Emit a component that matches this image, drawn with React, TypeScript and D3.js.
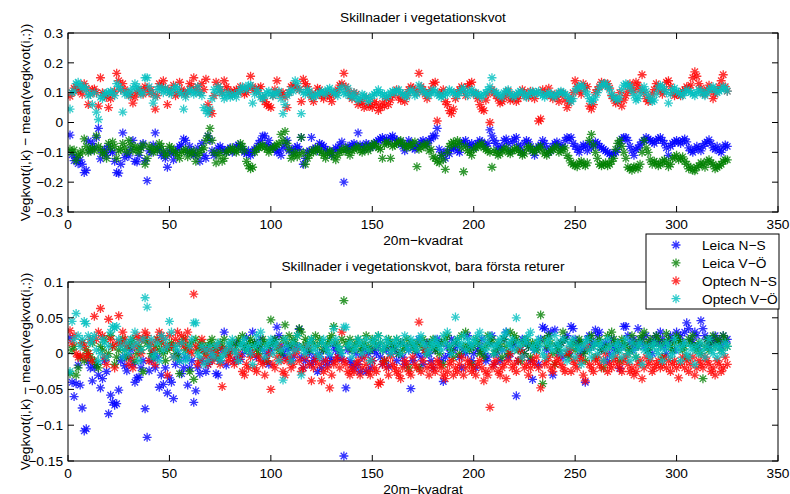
import React from "react";
import * as d3 from "d3";

// x = index + 1 (20m-kvadrat number). Values are given in thousandths (value × 1000).
const leicaNS1 = [
-42,-108,-128,-118,-138,-125,-140,-168,-160,-62,
-95,-70,-85,-50,-20,-122,-100,-90,-110,-80,
-95,-100,-130,-168,-170,-140,-35,-118,-105,-112,
-90,-60,-130,-132,-110,-85,-70,-128,-195,-95,
-100,-75,-35,-90,-85,-110,-100,-120,-150,-95,
-105,-125,-100,-90,-80,-75,-55,-60,-100,-80,
-95,-110,-105,-85,-130,-70,-110,-120,-45,-60,
-95,-110,-100,-85,-80,-90,-95,-100,-90,-85,
-100,-95,-80,-75,-80,-90,-100,-105,-95,-110,
-100,-90,-85,-70,-60,-45,-45,-75,-60,-80,
-85,-90,-100,-95,-110,-85,-75,-60,-95,-90,
-100,-85,-80,-90,-50,-140,-120,-100,-95,-50,
-90,-85,-95,-70,-75,-80,-90,-95,-100,-110,
-95,-85,-90,-75,-65,-200,-90,-80,-85,-75,
-70,-80,-35,-75,-80,-90,-70,-75,-85,-80,
-70,-65,-60,-55,-50,-60,-55,-65,-50,-45,
-55,-60,-70,-65,-80,-95,-75,-60,-70,-85,
-90,-80,-75,-65,-60,-70,-75,-60,-55,-45,
-45,-20,-90,-110,-100,-120,-95,-105,-90,-85,
-80,-95,-100,-70,-65,-60,-75,-80,-70,-85,
-75,-70,-60,-65,-75,-80,-70,-25,-45,-60,
-70,-85,-90,-80,-60,-55,-70,-95,-65,-55,
-50,-75,-85,-100,-70,-60,-65,-80,-95,-110,
-90,-80,-75,-60,-70,-85,-100,-95,-80,-70,
-65,-75,-85,-80,-60,-50,-55,-50,-70,-80,
-90,-100,-85,-75,-80,-95,-70,-85,-75,-65,
-70,-80,-85,-90,-95,-100,-105,-110,-105,-100,
-90,-70,-55,-50,-50,-60,-80,-95,-110,-90,
-85,-75,-65,-60,-50,-55,-60,-65,-70,-60,
-55,-50,-60,-70,-85,-110,-80,-70,-65,-60,
-65,-70,-60,-55,-65,-85,-95,-100,-90,-80,
-85,-95,-80,-70,-65,-58,-70,-85,-90,-80,
-95,-100,-85,-75,-80];

const leicaVO1 = [
-90,-100,-92,-128,-110,-105,-95,-55,-80,-100,
-90,-85,-95,-45,-80,-90,-105,-100,-120,-70,
-85,-65,-80,-120,-95,-90,-70,-85,-100,-60,
-75,-95,-80,-90,-100,-85,-75,-140,-120,-80,
-90,-100,-85,-95,-70,-80,-95,-110,-105,-80,
-85,-95,-100,-110,-120,-100,-95,-90,-115,-100,
-105,-95,-130,-110,-100,-90,-85,-60,-45,-20,
-60,-100,-135,-110,-100,-130,-120,-100,-95,-90,
-85,-95,-100,-90,-70,-80,-95,-130,-145,-155,
-150,-100,-90,-85,-80,-75,-85,-90,-100,-90,
-85,-80,-75,-70,-40,-60,-30,-70,-90,-120,
-110,-100,-115,-105,-50,-100,-140,-120,-110,-95,
-100,-90,-85,-95,-100,-110,-120,-105,-95,-100,
-115,-125,-110,-100,-90,-95,-85,-100,-110,-95,
-90,-85,-80,-95,-100,-90,-80,-95,-85,-75,
-70,-80,-85,-90,-120,-75,-65,-70,-120,-80,
-75,-70,-65,-60,-70,-80,-85,-75,-80,-70,
-65,-148,-90,-85,-75,-80,-70,-95,-90,-115,
-120,-130,-135,-110,-125,-157,-100,-80,-70,-65,
-75,-60,-70,-85,-165,-80,-95,-100,-110,-90,
-85,-80,-75,-70,-85,-90,-95,-100,-150,-95,
-100,-110,-105,-95,-90,-85,-100,-105,-95,-90,
-85,-95,-100,-110,-105,-90,-80,-85,-95,-100,
-90,-85,-80,-95,-105,-110,-100,-95,-90,-85,
-80,-100,-95,-90,-85,-110,-120,-135,-140,-145,
-148,-135,-130,-140,-145,-135,-60,-40,-75,-100,
-120,-140,-145,-140,-135,-145,-140,-130,-120,-90,
-70,-60,-80,-100,-120,-150,-155,-160,-148,-150,
-155,-140,-100,-60,-85,-100,-125,-140,-130,-135,
-145,-140,-130,-125,-135,-148,-140,-120,-115,-110,
-125,-120,-115,-130,-140,-155,-150,-160,-162,-150,
-145,-135,-140,-150,-130,-125,-135,-140,-155,-150,
-145,-140,-130,-125,-125];

const optechNS1 = [
88,100,115,120,105,110,95,130,115,60,
95,110,112,100,55,150,100,90,85,50,
80,95,105,165,140,110,130,110,100,95,
90,65,85,100,105,110,95,120,115,100,
110,95,45,90,130,120,140,115,60,100,
110,125,90,100,135,110,100,95,105,130,
120,150,110,120,100,130,110,145,60,40,
30,90,135,120,110,100,140,120,110,100,
95,105,110,100,120,110,95,100,115,155,
120,110,105,115,120,85,70,60,55,50,
90,110,140,100,95,100,85,50,100,120,
125,120,115,110,70,145,130,120,100,85,
70,95,115,110,90,80,100,95,85,70,
95,100,110,125,130,165,120,105,90,80,
100,95,60,70,65,50,85,55,60,50,
70,60,40,50,65,55,80,60,75,90,
100,110,85,75,95,70,90,110,120,115,
105,100,165,120,110,95,80,100,110,130,
135,5,100,95,110,70,60,40,30,45,
80,100,110,120,105,90,120,130,135,100,
95,80,60,45,40,75,95,0,110,100,
90,80,65,70,85,95,105,75,80,90,
70,80,95,110,100,90,85,105,95,80,
100,5,12,110,100,95,115,90,80,95,
85,70,100,95,75,50,65,80,100,140,
120,105,95,130,115,120,55,45,60,100,
110,120,135,130,125,130,115,90,80,65,
70,100,55,75,90,105,130,115,105,135,
125,110,160,100,80,70,75,95,110,130,
120,105,95,110,135,140,120,100,90,95,
95,90,105,110,120,115,125,150,170,155,
130,115,100,95,110,125,105,80,95,110,
120,140,160,120,105];

const optechVO1 = [
45,100,105,130,135,125,115,120,110,90,
95,60,100,35,10,85,80,95,100,100,
105,100,90,130,120,110,35,95,100,90,
105,115,130,120,110,95,100,150,150,120,
100,65,85,110,120,110,100,115,105,100,
95,110,120,115,100,95,45,85,100,110,
105,95,100,120,100,90,50,40,30,45,
80,110,100,120,110,95,80,90,100,85,
90,95,85,100,110,120,115,110,125,125,
65,95,110,100,85,80,90,100,105,95,
90,100,95,105,80,30,60,90,100,110,
105,140,130,110,30,100,95,110,105,90,
85,90,95,100,105,100,95,110,115,105,
100,95,90,110,120,100,95,115,90,85,
100,85,75,80,95,90,85,70,80,90,
95,100,110,100,90,95,85,90,100,105,
100,105,110,100,95,90,85,100,110,105,
90,95,125,115,105,100,95,90,100,110,
105,95,90,85,90,100,95,110,105,100,
95,90,100,110,115,100,90,105,110,95,
100,95,90,85,95,100,110,120,150,105,
100,95,90,85,100,105,110,95,90,85,
95,100,105,100,90,85,95,100,105,95,
100,105,95,90,85,95,100,95,90,85,
95,100,105,100,95,90,80,70,80,105,
115,120,125,120,105,95,80,70,75,85,
100,115,125,130,130,120,110,95,85,80,
75,85,110,125,130,125,120,105,90,75,
80,95,110,120,105,90,80,70,75,95,
115,125,120,110,100,65,95,110,115,105,
100,95,90,100,110,105,100,95,90,100,
110,105,95,90,100,110,115,120,110,100,
105,110,120,115,105];

const leicaNS2 = [
22,-40,-60,-42,-16,-44,-76,-108,-105,-12,
-20,-38,-20,-15,-30,-48,-35,-10,-25,-84,
-58,-68,-72,-70,-51,-10,-5,-17,-24,-5,
5,-15,-40,-34,-33,-20,-10,-77,-117,-24,
-10,0,-20,-5,-47,-30,-43,-20,-55,-34,
-40,-63,-15,0,-10,-28,-20,-5,-44,-20,
-10,-68,-52,-20,-28,-10,5,-25,-15,-10,
0,-5,-28,-30,-10,5,30,-16,0,10,
5,-10,15,-5,-8,0,10,22,5,0,
30,15,-5,10,20,5,-10,0,-15,5,
15,20,37,25,10,0,-5,5,10,-10,
-5,5,10,34,-5,-20,-10,5,0,-15,
-10,-5,-25,0,-20,-10,5,-15,-5,-10,
10,5,-5,0,-8,-143,-48,5,-10,-15,
-20,0,-15,-25,-5,5,-25,0,-20,-10,
5,0,10,-5,-15,-10,5,-18,0,10,
5,-10,0,15,-5,-15,10,5,-49,-10,
10,0,20,-5,-15,5,15,0,-10,-20,
5,20,15,-10,-39,-5,10,0,20,5,
15,10,-5,-20,5,0,25,10,-10,0,
-20,5,10,20,0,-10,-5,15,25,-15,
0,10,-10,5,20,30,-5,0,10,15,
-59,-10,5,20,0,15,10,-10,-36,5,
10,-15,20,37,35,5,25,30,-30,33,
10,0,15,-5,20,25,0,38,35,20,
10,15,0,5,-40,20,25,10,15,33,
25,30,5,10,15,-10,0,20,10,5,
15,-21,10,38,38,25,15,5,20,10,
35,15,20,10,25,5,15,0,20,25,
15,30,20,10,0,15,25,20,5,30,
20,25,15,30,43,35,20,15,30,25,
10,46,35,25,20,10,15,20,25,15,
20,10,25,15,20];

const leicaVO2 = [
-28,5,10,-30,-20,-5,15,-10,5,0,
-5,15,-10,-15,-20,10,5,20,-5,0,
25,10,-15,-5,5,15,20,5,-5,10,
15,20,-10,0,10,5,-25,20,15,10,
0,-5,10,20,5,15,0,-10,5,10,
15,10,0,-5,-28,15,20,5,10,-25,
15,-36,20,5,10,15,5,0,10,15,
20,10,5,-5,15,10,20,5,0,10,
15,5,10,20,15,25,10,5,15,20,
10,15,5,0,10,20,15,-10,10,47,
15,20,10,5,0,20,40,15,25,10,
20,15,25,35,30,10,20,15,5,20,
15,25,10,20,15,5,10,15,20,25,
38,15,10,5,20,74,15,10,20,5,
10,15,20,5,10,15,25,10,5,20,
15,10,25,15,5,-10,10,20,15,5,
10,20,0,15,5,10,20,-20,15,10,
5,15,-20,10,20,5,0,15,10,20,
5,10,0,15,-15,20,25,10,5,-5,
15,20,0,25,10,30,10,5,-15,10,
20,15,0,5,-5,10,25,15,20,0,
5,15,10,-5,20,10,0,30,15,25,
20,5,-10,15,0,20,10,-5,15,10,
5,15,54,-42,20,10,25,15,0,-15,
10,5,15,30,20,0,-5,10,15,5,
10,20,15,0,-10,5,20,25,10,-5,
15,20,5,-20,10,25,10,30,20,15,
5,-10,20,15,10,0,5,25,15,-5,
10,20,25,30,15,5,20,10,15,25,
20,10,-5,15,28,20,10,5,15,25,
20,15,5,10,-5,20,15,25,10,5,
15,0,-35,10,20,5,15,25,10,20,
15,5,25,20,10];

const optechNS2 = [
32,15,25,0,-5,-3,15,10,-5,0,
20,-10,52,20,30,63,25,-5,-15,48,
20,10,-20,15,53,15,30,20,10,-15,
-5,-20,10,25,20,0,20,30,25,-10,
15,5,-15,20,30,25,20,10,-30,25,
10,-5,20,30,15,25,10,20,30,5,
0,83,10,-15,-10,20,5,-5,-15,5,
-10,-5,0,10,-15,-46,5,0,-10,-5,
5,-15,-10,0,-5,-25,-30,-15,-20,-5,
0,-20,-25,-5,-10,-15,-30,-10,0,-50,
-15,-20,-5,10,-10,-25,-30,-10,-5,-20,
-15,0,5,-10,-25,-20,-5,10,-15,-38,
-20,-10,-5,-15,-38,-25,-10,-20,-48,-30,
-15,-10,-5,-20,30,-10,-15,-25,-30,-20,
-25,-15,-10,-30,-20,-5,-15,-25,-30,-10,
-20,-25,-43,-40,-15,-10,-20,-30,-5,-15,
-20,-25,-30,-35,-20,-10,-15,-25,-30,-5,
-15,-20,44,-25,-10,5,-20,-30,-15,-20,
-25,-10,-15,-20,-30,-35,-25,-15,-10,-30,
-20,-25,-15,-5,-30,-20,-10,-15,-25,-20,
-30,-15,-10,-20,-38,-25,-30,-75,-20,-15,
-10,-25,-30,-20,-15,-35,-10,0,-20,-15,
-25,-10,5,-5,-20,-15,-30,-20,-10,-15,
-5,-20,-48,-30,-15,-10,-5,-20,-25,-15,
-10,-5,-15,-20,-25,0,5,-25,-10,-15,
-20,-5,-10,-30,-38,10,-15,-20,-25,-10,
-5,-15,-20,-10,0,-25,-15,-20,-10,-5,
-15,-20,-25,-10,-5,-15,-25,-20,-30,-25,
-15,-10,-35,-20,-5,-15,-10,-25,-20,-15,
-10,-20,-15,-5,-20,-10,-25,-15,-10,-20,
-34,-15,-5,-20,-10,-25,-15,-5,-30,-20,
-10,-15,-20,-5,-10,-15,-25,-20,-30,-10,
-15,-25,-20,-5,-15];

const optechVO2 = [
-25,45,20,56,25,10,20,45,42,25,
15,20,25,5,-10,0,20,15,-5,10,
30,38,36,38,20,10,-5,5,15,0,
20,10,30,15,-10,5,20,78,65,10,
20,-5,0,15,-10,25,5,20,10,45,
30,-5,10,5,-10,15,0,-10,-5,10,
20,43,43,0,-5,10,-15,5,-10,10,
0,-5,10,15,-10,-5,0,5,15,10,
20,5,0,-10,10,15,20,5,10,0,
-15,10,25,15,30,5,-5,10,15,20,
0,10,15,-10,5,-37,20,10,0,-10,
15,5,25,10,-30,5,0,10,15,20,
5,10,0,-5,15,20,10,5,0,15,
35,20,10,5,0,37,37,10,15,-5,
5,10,20,15,0,10,20,5,-10,15,
20,10,25,15,5,10,20,15,0,5,
15,20,10,0,15,25,10,5,20,15,
10,5,20,25,15,10,0,5,15,10,
20,15,10,5,25,15,30,10,0,15,
51,20,10,15,25,5,20,15,10,20,
15,25,30,10,20,5,15,25,10,0,
10,15,20,5,25,30,15,10,20,5,
50,15,10,-5,20,15,25,30,10,5,
15,20,10,0,-5,15,20,10,5,25,
15,10,0,20,5,-10,15,10,20,-5,
10,5,-15,10,15,20,5,-5,10,15,
0,10,15,-10,5,20,10,-5,0,10,
15,5,-5,10,20,0,-10,15,5,-5,
10,15,-15,5,10,0,-5,10,15,5,
0,10,-10,5,15,10,-5,0,20,10,
5,-10,10,15,0,-5,10,5,-15,10,
0,15,5,-5,10,20,5,0,10,-5,
10,5,0,15,10];

const seriesNames = ["Leica N\u2212S", "Leica V\u2212\u00D6", "Optech N\u2212S", "Optech V\u2212\u00D6"];
const seriesColors = ["#0000ff", "#008000", "#ff0000", "#00bfbf"];
const topSeries = [leicaNS1, leicaVO1, optechNS1, optechVO1];
const bottomSeries = [leicaNS2, leicaVO2, optechNS2, optechVO2];

const xTicks = [0, 50, 100, 150, 200, 250, 300, 350];
const yTicksTop = [-0.3, -0.2, -0.1, 0, 0.1, 0.2, 0.3];
const yTickLabelsTop = ["\u22120.3", "\u22120.2", "\u22120.1", "0", "0.1", "0.2", "0.3"];
const yTicksBottom = [-0.15, -0.1, -0.05, 0, 0.05, 0.1];
const yTickLabelsBottom = ["\u22120.15", "\u22120.1", "\u22120.05", "0", "0.05", "0.1"];

const titleTop = "Skillnader i vegetationskvot";
const titleBottom = "Skillnader i vegetationskvot, bara f\u00F6rsta returer";
const xLabel = "20m\u2212kvadrat";
const yLabel = "Vegkvot(i,k) \u2212 mean(vegkvot(i,:))";

const FONT = "'Liberation Sans', Arial, Helvetica, sans-serif";
const FS = 13.7;
const R = 4.5;
const D = 3.2;
const starPath = `M${-R},0H${R}M0,${-R}V${R}M${-D},${-D}L${D},${D}M${-D},${D}L${D},${-D}`;

type PanelProps = {
  top: number;
  bottom: number;
  domain: [number, number];
  yTicks: number[];
  yLabels: string[];
  series: number[][];
  title: string;
};

const X0 = 68;
const X1 = 778;

function Panel({ top, bottom, domain, yTicks, yLabels, series, title }: PanelProps) {
  const x = d3.scaleLinear().domain([0, 350]).range([X0, X1]);
  const y = d3.scaleLinear().domain(domain).range([bottom, top]);
  const tl = 6;
  const clipId = `clip-${top}`;
  return (
    <g>
      <defs>
        <clipPath id={clipId}>
          <rect x={X0} y={top} width={X1 - X0} height={bottom - top} />
        </clipPath>
      </defs>
      <rect x={X0} y={top} width={X1 - X0} height={bottom - top} fill="#fff" />
      <g clipPath={`url(#${clipId})`}>
        {series.map((vals, si) => (
          <g key={si} stroke={seriesColors[si]} strokeWidth={1.3} fill="none" strokeOpacity={0.8}>
            {vals.map((v, i) => (
              <path key={i} d={starPath} transform={`translate(${x(i + 1)},${y(v / 1000)})`} />
            ))}
          </g>
        ))}
      </g>
      <rect x={X0} y={top} width={X1 - X0} height={bottom - top} fill="none" stroke="#000" strokeWidth={1} />
      {xTicks.map((t) => (
        <g key={t}>
          <line x1={x(t)} x2={x(t)} y1={bottom} y2={bottom - tl} stroke="#000" />
          <line x1={x(t)} x2={x(t)} y1={top} y2={top + tl} stroke="#000" />
          <text x={x(t)} y={bottom + 17} textAnchor="middle" fontSize={FS} fontFamily={FONT}>
            {t}
          </text>
        </g>
      ))}
      {yTicks.map((t, i) => (
        <g key={t}>
          <line x1={X0} x2={X0 + tl} y1={y(t)} y2={y(t)} stroke="#000" />
          <line x1={X1} x2={X1 - tl} y1={y(t)} y2={y(t)} stroke="#000" />
          <text x={X0 - 5} y={y(t) + 4.8} textAnchor="end" fontSize={FS} fontFamily={FONT}>
            {yLabels[i]}
          </text>
        </g>
      ))}
      <text x={(X0 + X1) / 2} y={top - 11} textAnchor="middle" fontSize={FS} fontFamily={FONT}>
        {title}
      </text>
      <text x={(X0 + X1) / 2} y={bottom + 32.5} textAnchor="middle" fontSize={FS} fontFamily={FONT}>
        {xLabel}
      </text>
      <text
        transform={`translate(29.5,${(top + bottom) / 2}) rotate(-90)`}
        textAnchor="middle"
        fontSize={FS}
        fontFamily={FONT}
      >
        {yLabel}
      </text>
    </g>
  );
}

function Legend() {
  const lx = 646;
  const ly = 234;
  const w = 133;
  const h = 75;
  return (
    <g>
      <rect x={lx} y={ly} width={w} height={h} fill="#fff" stroke="#000" strokeWidth={1} />
      {seriesNames.map((n, i) => {
        const cy = ly + 11 + i * 17.9;
        return (
          <g key={n}>
            <path d={starPath} transform={`translate(${lx + 30},${cy})`} stroke={seriesColors[i]} strokeWidth={1.3} fill="none" strokeOpacity={0.8} />
            <text x={lx + 56} y={cy + 5} fontSize={FS} fontFamily={FONT}>
              {n}
            </text>
          </g>
        );
      })}
    </g>
  );
}

export default function App() {
  return (
    <div style={{ position: "absolute", left: 0, top: 0 }}>
      <svg width={790} height={494} style={{ display: "block", background: "#fff" }}>
        <rect width={790} height={494} fill="#fff" />
        <Panel top={33} bottom={212} domain={[-0.3, 0.3]} yTicks={yTicksTop} yLabels={yTickLabelsTop} series={topSeries} title={titleTop} />
        <Panel top={282} bottom={461} domain={[-0.15, 0.1]} yTicks={yTicksBottom} yLabels={yTickLabelsBottom} series={bottomSeries} title={titleBottom} />
        <Legend />
      </svg>
    </div>
  );
}
